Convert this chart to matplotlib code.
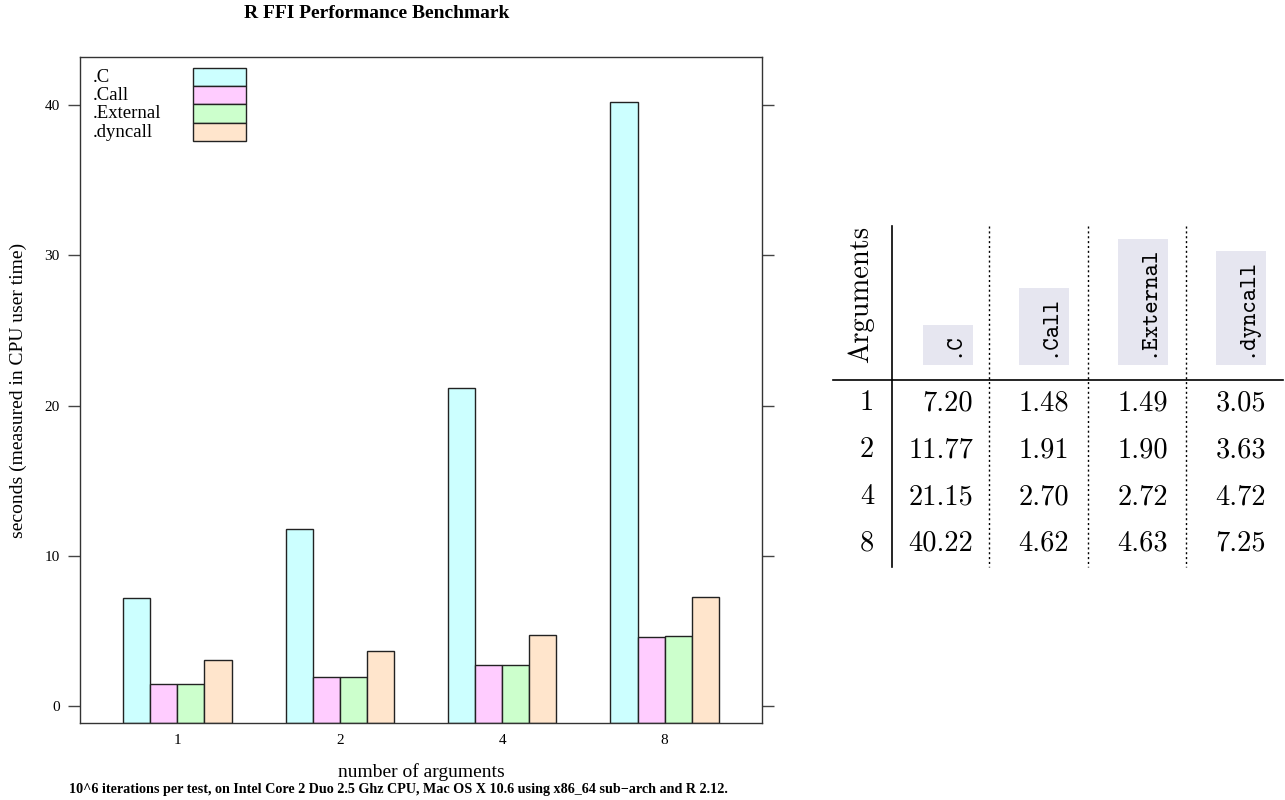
import numpy as np
import matplotlib
matplotlib.use("Agg")
import matplotlib.pyplot as plt
from matplotlib.patches import Rectangle

# benchmark data (seconds, CPU user time)
n_args = ["1", "2", "4", "8"]
methods = [".C", ".Call", ".External", ".dyncall"]
t_C = [7.20, 11.77, 21.15, 40.22]
t_Call = [1.48, 1.91, 2.70, 4.62]
t_External = [1.49, 1.90, 2.72, 4.63]
t_dyncall = [3.05, 3.63, 4.72, 7.25]
colors = ["#CCFFFF", "#FFCCFF", "#CCFFCC", "#FFE5CC"]

series = [t_C, t_Call, t_External, t_dyncall]

plt.rcParams["font.family"] = ["Liberation Serif", "DejaVu Serif"]

fig = plt.figure(figsize=(12.85, 8.0), dpi=100)
ax = fig.add_axes([80 / 1285, 1 - 723 / 800, 682 / 1285, 666 / 800])

ylo, yhi = -1.13, 43.2
x = np.arange(len(n_args))
w = 2 / 3 / 4
for i, (vals, col) in enumerate(zip(series, colors)):
    v = np.array(vals)
    ax.bar(x - 1 / 3 + w * (i + 0.5), v - ylo, width=w, bottom=ylo,
           color=col, edgecolor="#222222", linewidth=1.0)

ax.set_xlim(-0.6, len(n_args) - 0.4)
ax.set_ylim(ylo, yhi)
ax.set_yticks([0, 10, 20, 30, 40])
ax.set_xticks(x)
ax.set_xticklabels(n_args)
ax.tick_params(axis="x", length=0, pad=8, labelsize=11)
ax.tick_params(axis="y", length=8.5, width=1, color="#444444", direction="out",
               right=True, pad=6, labelsize=11)
for s in ax.spines.values():
    s.set_color("#333333")
    s.set_linewidth(1.0)

fig.text(421 / 1285, 1 - 772 / 800, "number of arguments", ha="center",
         va="center", fontsize=14)
fig.text(18 / 1285, 1 - 390 / 800, "seconds (measured in CPU user time)",
         ha="center", va="center", rotation=90, fontsize=14)
fig.text(377 / 1285, 1 - 14 / 800, "R FFI Performance Benchmark", ha="center",
         va="center", fontsize=14, fontweight="bold")
fig.text(398 / 1285, 1 - 790 / 800,
         "10^6 iterations per test, on Intel Core 2 Duo 2.5 Ghz CPU, Mac OS X 10.6 "
         "using x86_64 sub\u2212arch and R 2.12.",
         ha="center", va="center", fontsize=10.2, fontweight="bold")

# overlay in pixel coordinates for legend and table
tb = fig.add_axes([0, 0, 1, 1])
tb.set_xlim(0, 1285)
tb.set_ylim(800, 0)
tb.axis("off")

# legend (lattice style: labels left, boxes right)
for k, (m, c) in enumerate(zip(methods, colors)):
    y0 = 67.7 + 18.3 * k
    tb.text(93, y0 + 9.5, m, ha="left", va="center", fontsize=13.5)
    tb.add_patch(Rectangle((193, y0), 53, 18.3, facecolor=c,
                           edgecolor="#222222", linewidth=1.0))

# table
col_right = [973, 1069, 1168, 1266]
row_y = [403, 450, 497, 543]
top, bot = 226, 567

tb.plot([892, 892], [top, bot], color="black", lw=1.2)
tb.plot([833, 1283], [380, 380], color="black", lw=1.2)
for xd in [989, 1088, 1186]:
    tb.plot([xd, xd], [top, bot], color="black", lw=1.0, ls=(0, (1.5, 2)))

tb.text(861, 363, "Arguments", rotation=90, ha="center", va="bottom",
        fontfamily="cmr10", fontsize=20.5)

heads = []
for j, m in enumerate(methods):
    t = tb.text(col_right[j] - 9, 357, m, rotation=90, ha="right", va="bottom",
                fontfamily="cmtt10", fontsize=17, zorder=3)
    heads.append(t)

fig.canvas.draw()
inv = tb.transData.inverted()
for j, t in enumerate(heads):
    bb = t.get_window_extent()
    (_, ytop), = inv.transform([[bb.x0, bb.y1]])
    tb.add_patch(Rectangle((col_right[j] - 50, ytop - 7), 50, 365 - (ytop - 7),
                           facecolor="#E6E6F0", edgecolor="none", zorder=2))

for i, a in enumerate(n_args):
    tb.text(867, row_y[i], a, ha="center", va="center", fontfamily="cmr10",
            fontsize=20.5)
    for j, vals in enumerate(series):
        tb.text(col_right[j], row_y[i], "%.2f" % vals[i], ha="right",
                va="center", fontfamily="cmr10", fontsize=20.5)

fig.savefig("out.png", dpi=100)
